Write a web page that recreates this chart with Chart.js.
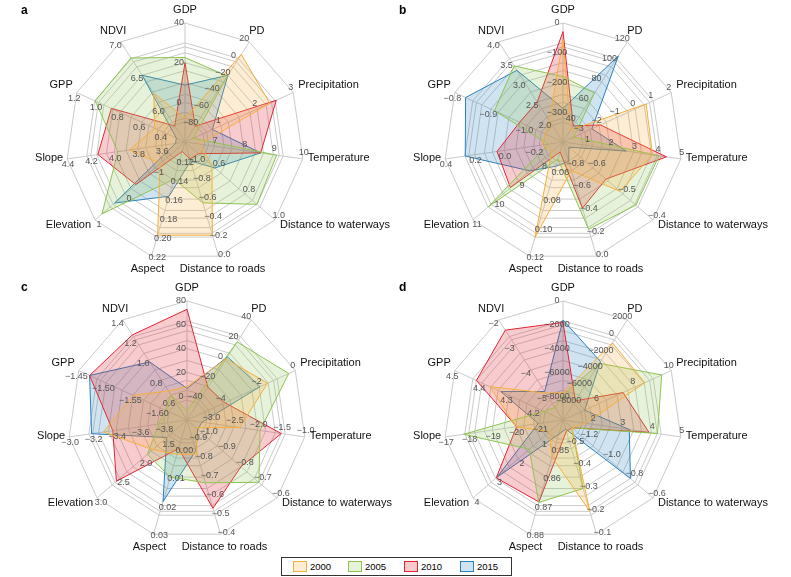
<!DOCTYPE html>
<html>
<head>
<meta charset="utf-8">
<script src="https://cdn.jsdelivr.net/npm/chart.js@4.4.0/dist/chart.umd.min.js"></script>
<style>
html,body{margin:0;padding:0;background:#fff;}
#wrap{position:relative;width:791px;height:577px;overflow:hidden;font-family:"Liberation Sans",Arial,Helvetica,sans-serif;}
#wrap canvas{position:absolute;left:0;top:0;}
.letter{position:absolute;font-weight:bold;font-size:12px;line-height:12px;color:#000;}
#legend{position:absolute;left:281px;top:557px;width:231px;height:19px;border:1px solid #333;box-sizing:border-box;background:#fff;}
.lp{position:absolute;top:3px;width:14px;height:11px;box-sizing:border-box;border:1px solid;}
.lt{position:absolute;top:2px;font-size:9.5px;line-height:13px;color:#000;}
</style>
</head>
<body>
<div id="wrap">
  <canvas id="ca" width="791" height="577"></canvas>
  <canvas id="cb" width="791" height="577"></canvas>
  <canvas id="cc" width="791" height="577"></canvas>
  <canvas id="cd" width="791" height="577"></canvas>
  <div class="letter" style="left:21px;top:4px;">a</div>
  <div class="letter" style="left:399px;top:4px;">b</div>
  <div class="letter" style="left:21px;top:281px;">c</div>
  <div class="letter" style="left:399px;top:281px;">d</div>
  <div id="legend"></div>
</div>
<script>
// ---------- categories ----------
const axisNames = ['GDP','PD','Precipitation','Temperature','Distance to waterways','Distance to roads','Aspect','Elevation','Slope','GPP','NDVI'];
const years = ['2000','2005','2010','2015'];

// ---------- panel a ----------
const aMin = [-20, -100, 0, 6, 0.4, -1.2, 0.10, -2, 3.4, 0.2, 5.5];
const aMax = [40, 20, 3, 10, 1.0, 0.0, 0.22, 1, 4.4, 1.2, 7.0];
const aTicks = [
  ['0','20','40'],
  ['−80','−60','−40','−20','0','20'],
  ['1','2','3'],
  ['7','8','9','10'],
  ['0.6','0.8','1.0'],
  ['−1.0','−0.8','−0.6','−0.4','−0.2','0.0'],
  ['0.12','0.14','0.16','0.18','0.20','0.22'],
  ['−1','0','1'],
  ['3.6','3.8','4.0','4.2','4.4'],
  ['0.4','0.6','0.8','1.0','1.2'],
  ['6.0','6.5','7.0']
];
const a2000 = [-8, 5, 2.35, 6.5, 0.58, -0.22, 0.198, -1.17, 3.87, 0.48, 6.23];
const a2005 = [22.6, -21, 0.23, 9.11, 0.88, -0.56, 0.139, 0.77, 3.97, 1.03, 6.76];
const a2010 = [20, -81, 2.53, 8.57, 0.49, -1.02, 0.11, -0.36, 4.14, 0.88, 5.74];
const a2015 = [8.7, -20, 0.76, 8.57, 0.60, -1.0, 0.157, 0.35, 3.48, 0.28, 6.5];

// ---------- panel b ----------
const bMin = [-400, 20, -4, 0, -0.7, -1.0, 0.04, 7, -0.4, -1.1, 1.5];
const bMax = [0, 120, 2, 5, -0.4, 0.0, 0.12, 11, 0.4, -0.8, 4.0];
const bTicks = [
  ['−300','−200','−100','0'],
  ['40','60','80','100','120'],
  ['−3','−2','−1','0','1','2'],
  ['1','2','3','4','5'],
  ['−0.6','−0.5','−0.4'],
  ['−0.8','−0.6','−0.4','−0.2','0.0'],
  ['0.06','0.08','0.10','0.12'],
  ['8','9','10','11'],
  ['−0.2','0.0','0.2','0.4'],
  ['−1.0','−0.9','−0.8'],
  ['2.0','2.5','3.0','3.5','4.0']
];
const b2000 = [-57, 32, 0.61, 3.8, -0.51, -0.75, 0.107, 7.5, -0.26, -1.05, 2.03];
const b2005 = [-180, 69, -3.4, 4.08, -0.457, -0.236, 0.052, 10.32, -0.3, -0.91, 3.4];
const b2010 = [-29, 36, -1.93, 4.39, -0.557, -0.42, 0.047, 9.34, 0.048, -0.98, 2.5];
const b2015 = [-287, 106, -2.4, 2.69, -0.68, -0.83, 0.057, 8.48, 0.264, -0.83, 3.29];

// ---------- panel c ----------
const cMin = [-20, -60, -6, -3.5, -1.1, -1.0, -0.01, 1.0, -4.0, -1.65, 0.4];
const cMax = [80, 40, 0, -1.0, -0.6, -0.4, 0.03, 3.0, -3.0, -1.45, 1.4];
const cTicks = [
  ['0','20','40','60','80'],
  ['−40','−20','0','20','40'],
  ['−4','−2','0'],
  ['−3.0','−2.5','−2.0','−1.5','−1.0'],
  ['−1.0','−0.9','−0.8','−0.7','−0.6'],
  ['−0.9','−0.8','−0.7','−0.6','−0.5','−0.4'],
  ['0.00','0.01','0.02','0.03'],
  ['1.5','2.0','2.5','3.0'],
  ['−3.8','−3.6','−3.4','−3.2','−3.0'],
  ['−1.60','−1.55','−1.50','−1.45'],
  ['0.6','0.8','1.0','1.2','1.4']
];
const c2000 = [8, 1, -1.54, -2.38, -1.05, -0.82, 0.002, 1.76, -3.29, -1.55, 0.69];
const c2005 = [-12, 18, -0.36, -1.95, -0.70, -0.67, 0.01, 1.88, -3.76, -1.61, 0.65];
const c2010 = [73, -27.5, -3.9, -1.5, -0.80, -0.536, 0.0, 2.57, -3.37, -1.47, 1.25];
const c2015 = [6.6, 3, -1.95, -3.18, -1.04, -0.84, 0.0186, 1.45, -3.19, -1.47, 0.98];

// ---------- panel d ----------
const dMin = [-10000, -10000, 4, 1, -1.4, -0.6, 0.84, 0, -22, 4.1, -6];
const dMax = [0, 2000, 10, 5, -0.6, -0.1, 0.88, 4, -17, 4.5, -2];
const dTicks = [
  ['−8000','−6000','−4000','−2000','0'],
  ['−8000','−6000','−4000','−2000','0','2000'],
  ['6','8','10'],
  ['2','3','4','5'],
  ['−1.2','−1.0','−0.8','−0.6'],
  ['−0.5','−0.4','−0.3','−0.2','−0.1'],
  ['0.85','0.86','0.87','0.88'],
  ['1','2','3','4'],
  ['−21','−20','−19','−18','−17'],
  ['4.2','4.3','4.4','4.5'],
  ['−5','−4','−3','−2']
];
const d2000 = [-7700, -760, 8.53, 1.77, -1.32, -0.2, 0.853, 0.6, -20.0, 4.37, -4.92];
const d2005 = [-7900, -3200, 9.47, 4.21, -1.32, -0.3, 0.8689, 1.5, -17.78, 4.17, -5.5];
const d2010 = [-1800, -7700, 7.33, 3.92, -1.32, -0.55, 0.8687, 2.97, -20.03, 4.42, -2.41];
const d2015 = [-1600, -3000, 5.2, 3.25, -0.80, -0.56, 0.845, 2.94, -20.95, 4.33, -4.86];

// ---------- styles ----------
const lineColors = ['rgb(245,174,60)','rgb(140,196,80)','rgb(226,36,50)','rgb(40,128,190)'];
const fillColors = ['rgba(245,174,60,0.22)','rgba(140,196,80,0.22)','rgba(226,36,50,0.24)','rgba(40,128,190,0.22)'];
const FONT = '"Liberation Sans", Arial, Helvetica, sans-serif';
const R = 119;

function num(s){ return parseFloat(s.replace('−','-')); }

function makePanel(canvasId, cx, cy, mins, maxs, ticks, series){
  const norm = v => v.map((x,i) => (x - mins[i]) / (maxs[i] - mins[i]));
  // ring positions = union of every axis' tick fractions
  const fr = [0];
  ticks.forEach((arr,i) => arr.forEach(t => {
    const f = (num(t) - mins[i]) / (maxs[i] - mins[i]);
    if (!fr.some(q => Math.abs(q - f) < 1e-6)) fr.push(f);
  }));
  fr.sort((p,q) => p - q);

  const textPlugin = {
    id: 'axisText_' + canvasId,
    afterDraw(chart){
      const sc = chart.scales.r, ctx = chart.ctx;
      ctx.save();
      // per-axis tick labels
      ctx.font = '9px ' + FONT;
      ctx.fillStyle = '#555';
      ctx.textAlign = 'center';
      ctx.textBaseline = 'middle';
      for (let i = 0; i < axisNames.length; i++){
        const th = sc.getIndexAngle(i);
        const ox = -Math.cos(th) * 6, oy = -Math.sin(th) * 6;
        ticks[i].forEach(t => {
          const f = (num(t) - mins[i]) / (maxs[i] - mins[i]);
          const p = sc.getPointPositionForValue(i, f);
          ctx.fillText(t, p.x + ox, p.y + oy);
        });
      }
      // axis names
      ctx.font = '11px ' + FONT;
      ctx.fillStyle = '#111';
      for (let i = 0; i < axisNames.length; i++){
        const th = sc.getIndexAngle(i);
        const s = Math.sin(th), c = Math.cos(th);
        const v = sc.getPointPosition(i, sc.drawingArea);
        let x, y;
        if (Math.abs(s) < 0.6){
          ctx.textAlign = 'center';
          x = v.x + s * 14; y = v.y - c * 13;
        } else {
          ctx.textAlign = s > 0 ? 'left' : 'right';
          x = v.x + (s > 0 ? 5 : -4); y = v.y - c * 12 - 3;
        }
        ctx.fillText(axisNames[i], x, y);
      }
      ctx.restore();
    }
  };

  return new Chart(document.getElementById(canvasId), {
    type: 'radar',
    data: {
      labels: axisNames,
      datasets: series.map((s, k) => ({
        label: years[k],
        data: norm(s),
        borderColor: lineColors[k],
        backgroundColor: fillColors[k],
        borderWidth: 1,
        pointRadius: 0,
        fill: 'origin',
        tension: 0
      }))
    },
    options: {
      responsive: false,
      animation: false,
      devicePixelRatio: 1,
      layout: { padding: { left: cx - R, right: 791 - cx - R, top: cy - R, bottom: 577 - cy - R } },
      plugins: { legend: { display: false }, tooltip: { enabled: false } },
      scales: {
        r: {
          min: 0, max: 1,
          ticks: { display: false },
          afterBuildTicks: sc => { sc.ticks = fr.map(v => ({ value: v })); },
          grid: { color: 'rgb(202,202,202)', lineWidth: 1 },
          angleLines: { color: 'rgb(202,202,202)', lineWidth: 1 },
          pointLabels: { display: false }
        }
      }
    },
    plugins: [textPlugin]
  });
}

makePanel('ca', 185, 142, aMin, aMax, aTicks, [a2000, a2005, a2010, a2015]);
makePanel('cb', 563, 142, bMin, bMax, bTicks, [b2000, b2005, b2010, b2015]);
makePanel('cc', 187, 420, cMin, cMax, cTicks, [c2000, c2005, c2010, c2015]);
makePanel('cd', 563, 420, dMin, dMax, dTicks, [d2000, d2005, d2010, d2015]);

// legend
const leg = document.getElementById('legend');
const patchX = [11, 66, 122, 178];
years.forEach((y, k) => {
  const p = document.createElement('div');
  p.className = 'lp';
  p.style.left = patchX[k] + 'px';
  p.style.borderColor = lineColors[k];
  p.style.background = fillColors[k];
  leg.appendChild(p);
  const t = document.createElement('div');
  t.className = 'lt';
  t.style.left = (patchX[k] + 17) + 'px';
  t.textContent = y;
  leg.appendChild(t);
});
</script>
</body>
</html>
